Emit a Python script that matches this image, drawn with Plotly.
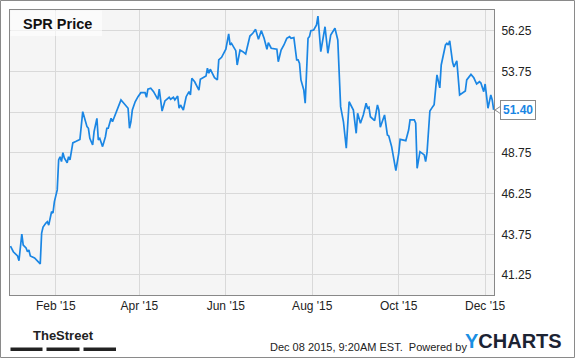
import plotly.graph_objects as go

dates = [
    "2014-12-31", "2015-01-02", "2015-01-05", "2015-01-06", "2015-01-08", "2015-01-09",
    "2015-01-11", "2015-01-12", "2015-01-13", "2015-01-14", "2015-01-17", "2015-01-20",
    "2015-01-21", "2015-01-22", "2015-01-23", "2015-01-25", "2015-01-26", "2015-01-27",
    "2015-01-29", "2015-01-30", "2015-01-31", "2015-02-02", "2015-02-03", "2015-02-04",
    "2015-02-05", "2015-02-06", "2015-02-07", "2015-02-09", "2015-02-10", "2015-02-11",
    "2015-02-13", "2015-02-15", "2015-02-18", "2015-02-20", "2015-02-21", "2015-02-23",
    "2015-02-24", "2015-02-25", "2015-02-27", "2015-02-28", "2015-03-02", "2015-03-03",
    "2015-03-04", "2015-03-06", "2015-03-08", "2015-03-09", "2015-03-10", "2015-03-12",
    "2015-03-13", "2015-03-15", "2015-03-17", "2015-03-18", "2015-03-19", "2015-03-21",
    "2015-03-24", "2015-03-25", "2015-03-26", "2015-03-27", "2015-03-29", "2015-03-31",
    "2015-04-02", "2015-04-05", "2015-04-06", "2015-04-07", "2015-04-09", "2015-04-11",
    "2015-04-13", "2015-04-14", "2015-04-15", "2015-04-17", "2015-04-19", "2015-04-22",
    "2015-04-23", "2015-04-25", "2015-04-26", "2015-04-28", "2015-04-29", "2015-04-30",
    "2015-05-02", "2015-05-04", "2015-05-06", "2015-05-07", "2015-05-08", "2015-05-10",
    "2015-05-12", "2015-05-13", "2015-05-14", "2015-05-17", "2015-05-18", "2015-05-19",
    "2015-05-20", "2015-05-21", "2015-05-23", "2015-05-24", "2015-05-26", "2015-05-27",
    "2015-05-29", "2015-05-31", "2015-06-01", "2015-06-03", "2015-06-04", "2015-06-05",
    "2015-06-07", "2015-06-08", "2015-06-09", "2015-06-11", "2015-06-13", "2015-06-15",
    "2015-06-18", "2015-06-20", "2015-06-22", "2015-06-23", "2015-06-24", "2015-06-26",
    "2015-06-28", "2015-06-30", "2015-07-01", "2015-07-03", "2015-07-05", "2015-07-07",
    "2015-07-08", "2015-07-10", "2015-07-12", "2015-07-14", "2015-07-16", "2015-07-17",
    "2015-07-19", "2015-07-21", "2015-07-22", "2015-07-23", "2015-07-24", "2015-07-26",
    "2015-07-27", "2015-07-29", "2015-07-30", "2015-07-31", "2015-08-02", "2015-08-04",
    "2015-08-05", "2015-08-07", "2015-08-10", "2015-08-12", "2015-08-14", "2015-08-17",
    "2015-08-19", "2015-08-20", "2015-08-21", "2015-08-23", "2015-08-25", "2015-08-27",
    "2015-08-30", "2015-09-01", "2015-09-02", "2015-09-04", "2015-09-06", "2015-09-08",
    "2015-09-09", "2015-09-10", "2015-09-11", "2015-09-14", "2015-09-16", "2015-09-17",
    "2015-09-18", "2015-09-21", "2015-09-23", "2015-09-24", "2015-09-26", "2015-09-29",
    "2015-10-01", "2015-10-02", "2015-10-05", "2015-10-06", "2015-10-08", "2015-10-09",
    "2015-10-12", "2015-10-13", "2015-10-14", "2015-10-16", "2015-10-19", "2015-10-20",
    "2015-10-21", "2015-10-23", "2015-10-25", "2015-10-26", "2015-10-28", "2015-10-30",
    "2015-10-31", "2015-11-03", "2015-11-04", "2015-11-05", "2015-11-06", "2015-11-07",
    "2015-11-08", "2015-11-09", "2015-11-11", "2015-11-13", "2015-11-14", "2015-11-16",
    "2015-11-17", "2015-11-18", "2015-11-21", "2015-11-23", "2015-11-25", "2015-11-27",
    "2015-11-28", "2015-11-30", "2015-12-01", "2015-12-03", "2015-12-05", "2015-12-06",
    "2015-12-07",
]

prices = [
    43.03, 42.68, 42.42, 42.13, 43.77, 43.09,
    42.91, 42.68, 42.79, 42.42, 42.30, 41.99,
    41.93, 43.83, 44.20, 44.45, 44.53, 44.32,
    45.14, 45.06, 45.76, 46.48, 48.32, 48.52,
    48.22, 48.77, 48.44, 48.15, 48.52, 48.32,
    49.37, 49.45, 49.58, 51.29, 50.98, 50.37,
    50.27, 49.65, 49.24, 50.06, 50.88, 49.55,
    49.65, 49.14, 49.75, 50.27, 50.27, 50.88,
    50.67, 51.09, 51.60, 51.70, 52.01, 51.81,
    51.50, 50.27, 50.67, 51.39, 51.90, 52.21,
    52.46, 52.46, 52.17, 52.67, 52.73, 52.52,
    52.21, 52.05, 52.68, 51.33, 51.95, 52.17,
    52.05, 52.17, 52.01, 52.25, 51.50, 51.70,
    51.39, 52.21, 52.52, 52.32, 53.34, 53.13,
    52.79, 52.62, 53.28, 53.44, 53.48, 53.96,
    53.65, 53.90, 53.55, 53.38, 53.24, 54.47,
    54.63, 54.92, 55.13, 56.07, 55.39, 55.49,
    55.19, 55.04, 54.16, 55.08, 54.98, 54.84,
    55.94, 56.11, 56.35, 56.11, 55.74, 56.27,
    55.80, 55.13, 55.53, 55.19, 55.16, 55.13,
    54.36, 55.08, 55.39, 55.80, 55.90, 55.80,
    55.84, 54.47, 54.47, 54.26, 53.24, 52.62,
    51.81, 55.80, 55.90, 56.27, 56.31, 56.62,
    57.17, 54.98, 56.51, 54.88, 56.00, 56.42,
    55.70, 53.44, 51.60, 50.67, 49.04, 51.90,
    51.39, 49.96, 51.19, 50.58, 51.09, 51.81,
    51.50, 51.56, 50.98, 50.74, 51.70, 51.39,
    50.33, 51.09, 49.86, 49.80, 49.14, 47.66,
    48.73, 49.59, 49.55, 49.51, 50.16, 50.78,
    50.78, 50.58, 47.81, 48.83, 48.63, 48.22,
    48.78, 51.33, 51.60, 51.72, 53.55, 52.75,
    54.16, 55.39, 55.49, 55.39, 55.65, 54.77,
    54.34, 54.04, 54.42, 52.32, 52.38, 52.50,
    52.56, 53.24, 53.58, 53.37, 52.99, 53.13,
    53.05, 52.52, 52.99, 51.50, 52.32, 52.01,
    51.40,
]

x_tick_dates = ["2015-02-01", "2015-04-01", "2015-06-01", "2015-08-01", "2015-10-01", "2015-12-01"]
x_tick_labels = ["Feb '15", "Apr '15", "Jun '15", "Aug '15", "Oct '15", "Dec '15"]
y_tick_values = [41.25, 43.75, 46.25, 48.75, 51.25, 53.75, 56.25]
y_tick_labels = ["41.25", "43.75", "46.25", "48.75", "", "53.75", "56.25"]

title_text = "SPR Price"
last_label = "51.40"
footer_date = "Dec 08 2015, 9:20AM EST.  Powered by"

W, H = 575, 358
ML, MR, MT, MB = 10, 81, 10, 63
PW, PH = W - ML - MR, H - MT - MB

def px(x):
    return (x - ML) / PW

def py(y):
    return (H - MB - y) / PH

FONT = "Arial, Liberation Sans, sans-serif"
LINE_BLUE = "#1a86e4"

fig = go.Figure()
fig.add_trace(go.Scatter(
    x=dates, y=prices, mode="lines",
    line=dict(color=LINE_BLUE, width=1.7),
    hoverinfo="skip", showlegend=False,
))

fig.update_layout(
    width=W, height=H, autosize=False,
    margin=dict(l=ML, r=MR, t=MT, b=MB, pad=0),
    paper_bgcolor="white", plot_bgcolor="#f5f5f5",
    font=dict(family=FONT, size=12, color="#222"),
    xaxis=dict(
        type="date", range=["2014-12-30 16:00", "2015-12-07 06:00"],
        tickvals=x_tick_dates, ticktext=x_tick_labels,
        showgrid=True, gridcolor="#d9d9d9", gridwidth=1,
        showline=True, linecolor="#888", linewidth=1, mirror=True,
        ticks="", zeroline=False, fixedrange=True,
        tickfont=dict(size=12, color="#222"),
    ),
    yaxis=dict(
        range=[40.02, 57.54], side="right",
        tickvals=y_tick_values, ticktext=y_tick_labels,
        showgrid=True, gridcolor="#d9d9d9", gridwidth=1,
        showline=True, linecolor="#888", linewidth=1, mirror=True,
        ticks="", zeroline=False, fixedrange=True,
        tickfont=dict(size=12, color="#222"),
        ticklabelstandoff=4,
    ),
)

shapes = []
# outer border
shapes.append(dict(type="rect", xref="paper", yref="paper",
                   x0=px(0.5), x1=px(574.5), y0=py(357.5), y1=py(0.5),
                   line=dict(color="#8a8a8a", width=1), fillcolor="rgba(0,0,0,0)", layer="above"))
# title backdrop
shapes.append(dict(type="rect", xref="paper", yref="paper",
                   x0=px(10.5), x1=px(102), y0=py(36), y1=py(10.5),
                   line=dict(width=0), fillcolor="rgba(255,255,255,0.6)", layer="above"))
# last value pointer
shapes.append(dict(type="path", xref="paper", yref="paper",
                   path="M {a},{b} L {c},{d} L {c},{e} Z".format(
                       a=px(495), b=py(110), c=px(501), d=py(106), e=py(114)),
                   line=dict(color="#8a8a8a", width=1), fillcolor="white", layer="above"))
# TheStreet bars
for x0, x1 in [(10.5, 42.5), (46.5, 79.5), (83.5, 116)]:
    shapes.append(dict(type="rect", xref="paper", yref="paper",
                       x0=px(x0), x1=px(x1), y0=py(351), y1=py(347.5),
                       line=dict(width=0), fillcolor="#222", layer="above"))
fig.update_layout(shapes=shapes)

annotations = [
    dict(text="<b>" + title_text + "</b>", xref="paper", yref="paper",
         x=px(21), y=py(23.5), xanchor="left", yanchor="middle", showarrow=False,
         font=dict(family=FONT, size=14.5, color="#111")),
    dict(text="<b>" + last_label + "</b>", xref="paper", yref="paper",
         x=px(500), y=py(110), xanchor="left", yanchor="middle", showarrow=False,
         font=dict(family=FONT, size=12, color=LINE_BLUE),
         bgcolor="white", bordercolor="#8a8a8a", borderwidth=1, borderpad=2),
    dict(text="<b>TheStreet</b>", xref="paper", yref="paper",
         x=px(63), y=py(335), xanchor="center", yanchor="middle", showarrow=False,
         font=dict(family=FONT, size=13, color="#222")),
    dict(text=footer_date, xref="paper", yref="paper",
         x=px(268), y=py(347), xanchor="left", yanchor="middle", showarrow=False,
         font=dict(family=FONT, size=11, color="#222")),
    dict(text="<b><span style='color:#1a8fe3'>Y</span>CHARTS</b>", xref="paper", yref="paper",
         x=px(463), y=py(341), xanchor="left", yanchor="middle", showarrow=False,
         font=dict(family=FONT, size=20, color="#1c2333")),
]
fig.update_layout(annotations=annotations)

fig.write_html("out.html", config={"displayModeBar": False})
